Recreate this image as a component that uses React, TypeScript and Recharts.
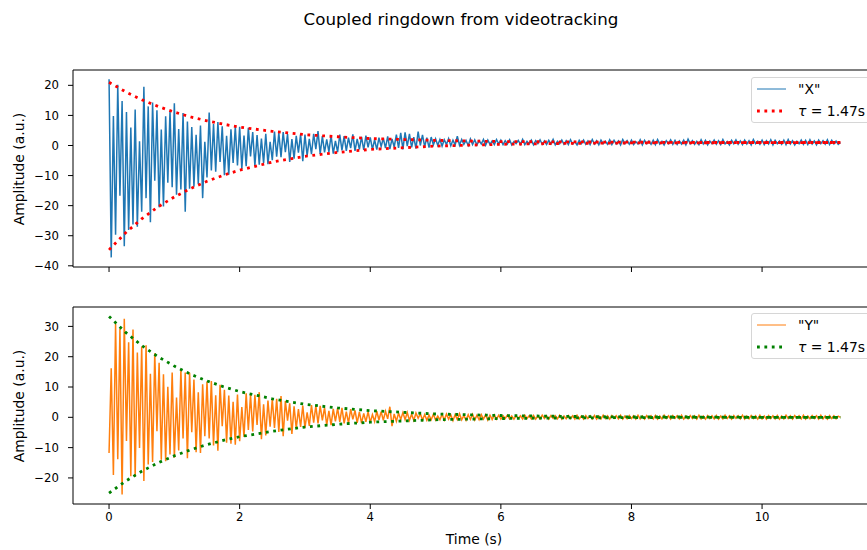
import React from 'react';
import { LineChart, Line, XAxis, YAxis, ReferenceLine } from 'recharts';

const FONT = '"DejaVu Sans", Verdana, sans-serif';

// Video frames per second of the tracked signal (samples are equally spaced in time)
const SAMPLE_RATE = 30;

// "X" amplitude
const X_SIGNAL = [
  22.0, -37.2, 9.8, -29.7, 20.2, -16.7, 14.8, -33.5, 11.1, -28.1, 6.0, -26.3, 12.0, -27.0, 1.4,
  -22.0, 19.5, -17.5, 13.0, -25.5, 14.3, -11.7, 11.7, -20.5, 5.3, -20.3, 9.7, -12.4, 11.5, -13.9,
  14.0, -16.4, 5.5, -14.6, 10.8, -22.0, 8.0, -14.4, 6.1, -13.7, 3.6, -12.8, 6.6, -17.5, 1.2,
  -10.6, 11.0, -8.3, 7.1, -8.7, 7.8, -5.5, 6.4, -9.9, 3.2, -9.7, 5.4, -5.8, 6.3, -6.6,
  6.2, -7.8, 3.3, -6.9, 5.9, -3.6, 4.5, -6.8, 3.5, -6.4, 2.3, -5.9, 3.9, -6.2, 1.2,
  -4.9, 4.6, -3.7, 4.2, -3.9, 4.5, -2.2, 3.8, -5.5, 2.1, -4.4, 3.2, -2.4, 3.7, -5.2,
  3.6, -3.4, 2.2, -2.9, 3.9, -1.2, 4.8, -2.8, 3.1, -2.3, 2.0, -2.1, 3.4, -2.7, 1.5,
  -2.2, 3.6, -1.6, 3.1, -1.8, 2.6, -0.9, 3.7, -1.8, 2.2, -1.3, 2.9, -1.5, 3.3, -0.6,
  2.7, -1.3, 1.9, -1.4, 2.6, -0.3, 2.4, -0.9, 3.0, -1.2, 2.2, -0.5, 3.6, -0.8, 4.2,
  -1.3, 4.4, -0.2, 3.9, -0.6, 2.8, -1.0, 4.6, 0.0, 3.5, -0.4, 2.6, -0.7, 2.8, 0.2,
  2.2, 0.1, 2.0, -0.2, 1.9, 0.3, 2.3, -0.1, 1.8, 0.2, 3.1, 0.1, 2.0, 0.4, 1.7,
  0.0, 2.2, 0.3, 1.9, 0.2, 1.6, 0.5, 2.0, 0.1, 1.8, 0.4, 1.5, 0.3, 2.0, 0.5,
  1.8, 0.3, 1.6, 0.5, 1.9, 0.2, 1.3, 0.6, 1.7, 0.4, 2.0, 0.3, 1.4, 0.5, 1.8,
  0.2, 1.6, 0.6, 1.9, 0.4, 1.5, 0.3, 1.7, 0.5, 2.0, 0.2, 1.4, 0.6, 1.8, 0.4,
  1.6, 0.3, 1.9, 0.5, 1.3, 0.2, 1.7, 0.6, 1.8, 0.4, 1.5, 0.3, 2.0, 0.5, 1.6,
  0.2, 1.8, 0.6, 1.4, 0.4, 1.9, 0.3, 1.7, 0.5, 1.5, 0.2, 2.0, 0.6, 1.6, 0.4,
  1.8, 0.3, 1.3, 0.5, 1.9, 0.2, 1.7, 0.6, 1.5, 0.4, 1.8, 0.3, 2.0, 0.5, 1.4,
  0.2, 1.6, 0.6, 1.9, 0.4, 1.7, 0.3, 1.5, 0.5, 1.8, 0.2, 2.1, 0.6, 1.6, 0.4,
  1.4, 0.3, 1.9, 0.5, 1.7, 0.2, 1.5, 0.6, 1.8, 0.4, 1.6, 0.3, 2.0, 0.5, 1.3,
  0.2, 1.7, 0.6, 1.9, 0.4, 1.5, 0.3, 1.8, 0.5, 1.6, 0.2, 2.0, 0.6, 1.4, 0.4,
  1.8, 0.3, 1.6, 0.5, 1.9, 0.2, 1.7, 0.6, 1.5, 0.4, 1.8, 0.3, 2.0, 0.5, 1.6,
  0.2, 1.4, 0.6, 1.8, 0.4, 1.7, 0.3, 1.9, 0.5, 1.5, 0.2, 1.8, 0.6, 1.6, 0.4,
  1.9, 0.3, 1.7, 0.5, 1.5, 0.4, 1.0,
];

// "Y" amplitude
const Y_SIGNAL = [
  -11.8, 16.2, -19.0, 30.8, -13.8, 29.2, -25.5, 32.5, -7.8, 24.8, -19.4, 29.0, -19.7, 21.4, -10.1,
  23.4, -21.0, 23.8, -15.6, 14.4, -14.7, 21.1, -4.6, 18.0, -14.0, 14.2, -14.5, 10.1, -12.3, 14.8,
  -13.3, 6.5, -10.9, 15.7, -7.0, 14.8, -13.5, 14.7, -4.9, 12.5, -11.5, 8.3, -11.8, 10.9, -6.2,
  11.8, -7.0, 12.0, -9.3, 7.3, -11.0, 10.7, -2.9, 9.1, -8.4, 7.2, -8.7, 5.1, -9.0, 7.5,
  -7.9, 3.4, -6.5, 7.9, -4.2, 7.5, -4.7, 7.4, -2.5, 8.3, -7.2, 4.3, -6.0, 5.5, -3.1,
  6.0, -3.5, 6.1, -4.8, 7.0, -6.2, 5.4, -1.1, 4.6, -5.5, 3.6, -3.7, 2.7, -3.2, 3.9,
  -3.5, 1.6, -2.8, 4.0, -1.8, 3.8, -2.0, 3.8, -1.0, 3.2, -2.6, 2.1, -2.6, 2.8, -1.3,
  3.0, -1.5, 3.1, -2.0, 1.9, -1.9, 2.7, -0.7, 2.3, -1.8, 1.8, -1.9, 1.3, -1.5, 1.9,
  -1.7, 0.9, -1.4, 2.0, -0.9, 1.9, -1.0, 2.0, -0.5, 3.5, -2.9, 1.1, -1.3, 1.4, -0.7,
  1.6, -0.8, 1.6, -1.0, 1.0, -1.0, 1.4, -0.3, 1.2, -0.9, 0.9, -1.0, 0.7, -0.8, 1.0,
  -0.9, 0.4, -0.8, 1.0, -0.9, 1.1, -0.6, 0.8, -1.1, 0.9, -0.7, 1.2, -0.8, 0.6, -1.0,
  0.9, -0.7, 1.0, -0.9, 0.7, -0.8, 0.9, -0.6, 0.8, -0.9, 0.7, -0.7, 0.8, -0.6, 0.7,
  -0.6, 0.5, -0.4, 0.7, -0.5, 0.4, -0.6, 0.6, -0.3, 0.5, -0.6, 0.7, -0.4, 0.5, -0.5,
  0.6, -0.6, 0.4, -0.5, 0.7, -0.4, 0.5, -0.6, 0.6, -0.3, 0.5, -0.5, 0.7, -0.6, 0.4,
  -0.5, 0.6, -0.4, 0.5, -0.6, 0.7, -0.5, 0.4, -0.6, 0.6, -0.4, 0.5, -0.5, 0.6, -0.6,
  0.4, -0.5, 0.7, -0.4, 0.5, -0.6, 0.6, -0.3, 0.5, -0.5, 0.7, -0.6, 0.4, -0.5, 0.6,
  -0.4, 0.5, -0.6, 0.7, -0.5, 0.4, -0.6, 0.6, -0.4, 0.5, -0.5, 0.6, -0.6, 0.4, -0.5,
  0.7, -0.4, 0.5, -0.6, 0.6, -0.3, 0.5, -0.5, 0.7, -0.6, 0.4, -0.5, 0.6, -0.4, 0.5,
  -0.6, 0.7, -0.5, 0.4, -0.6, 0.6, -0.4, 0.5, -0.5, 0.6, -0.6, 0.4, -0.5, 0.7, -0.4,
  0.5, -0.6, 0.6, -0.3, 0.5, -0.5, 0.7, -0.6, 0.4, -0.5, 0.6, -0.4, 0.5, -0.6, 0.7,
  -0.5, 0.4, -0.6, 0.6, -0.4, 0.5, -0.5, 0.6, -0.6, 0.4, -0.5, 0.7, -0.4, 0.5, -0.6,
  0.6, -0.3, 0.5, -0.5, 0.7, -0.6, 0.4, -0.5, 0.6, -0.4, 0.5, -0.6, 0.7, -0.5, 0.4,
  -0.6, 0.6, -0.4, 0.5, -0.5, 0.4, 0.0,
];

// Exponential-decay envelope (tau = 1.47 s), read at these times
const ENV_T = [0, 0.25, 0.5, 0.75, 1, 1.25, 1.5, 1.75, 2, 2.5, 3, 3.5, 4, 5, 6, 7, 8, 9, 10, 11.2];
const X_ENV_UPPER = [21.0, 17.9, 15.2, 13.0, 11.1, 9.5, 8.2, 7.1, 6.1, 4.7, 3.6, 2.9, 2.3, 1.7, 1.3, 1.2, 1.1, 1.0, 1.0, 1.0];
const X_ENV_LOWER = [-34.7, -29.1, -24.4, -20.4, -17.1, -14.3, -11.9, -9.9, -8.2, -5.5, -3.6, -2.3, -1.3, -0.2, 0.4, 0.7, 0.85, 0.9, 0.95, 1.0];
const Y_ENV_UPPER = [33.3, 28.1, 23.7, 20.0, 16.9, 14.2, 12.0, 10.1, 8.5, 6.1, 4.3, 3.1, 2.2, 1.1, 0.6, 0.3, 0.1, 0.1, 0.0, 0.0];
const Y_ENV_LOWER = [-25.0, -21.1, -17.8, -15.0, -12.7, -10.7, -9.0, -7.6, -6.4, -4.6, -3.2, -2.3, -1.6, -0.8, -0.4, -0.2, -0.1, 0.0, 0.0, 0.0];

const X_TICKS = [0, 2, 4, 6, 8, 10];
const TOP_Y_TICKS = [-40, -30, -20, -10, 0, 10, 20];
const BOTTOM_Y_TICKS = [-20, -10, 0, 10, 20, 30];
const X_DOMAIN: [number, number] = [-0.552, 11.76];
const TOP_Y_DOMAIN: [number, number] = [-40.4, 25.1];
const BOTTOM_Y_DOMAIN: [number, number] = [-28.6, 36.4];

const TITLE = 'Coupled ringdown from videotracking';
const Y_LABEL = 'Amplitude (a.u.)';
const X_LABEL = 'Time (s)';
const TAU_LABEL = '= 1.47s';

const fmt = (v: number) => String(v).replace('-', '\u2212');

function Panel(props: any) {
  const { top, height, marginBottom, signal, signalColor, envColor, upper, lower, yDomain, yTicks, showLabels } = props;
  const sig = signal.map((v: number, i: number) => ({ t: i / SAMPLE_RATE, v }));
  const up = ENV_T.map((t, i) => ({ t, v: upper[i] }));
  const lo = ENV_T.map((t, i) => ({ t, v: lower[i] }));
  const tickStyle = { fill: '#000', fontSize: 11.7, fontFamily: FONT };
  return (
    <div style={{ position: 'absolute', left: 0, top, width: 867, height, overflow: 'hidden' }}>
      <LineChart width={880} height={height} margin={{ top: 70, right: 3, bottom: marginBottom, left: 0 }}>
        <XAxis
          xAxisId="b"
          type="number"
          dataKey="t"
          domain={X_DOMAIN}
          ticks={X_TICKS}
          allowDataOverflow
          interval={0}
          height={30}
          axisLine={{ stroke: '#000', strokeWidth: 1 }}
          tickLine={{ stroke: '#000', strokeWidth: 1 }}
          tickSize={5}
          tickMargin={4}
          tick={tickStyle}
          tickFormatter={showLabels ? fmt : () => ''}
        />
        <YAxis
          yAxisId="l"
          type="number"
          domain={yDomain}
          ticks={yTicks}
          allowDataOverflow
          interval={0}
          width={73}
          axisLine={{ stroke: '#000', strokeWidth: 1 }}
          tickLine={{ stroke: '#000', strokeWidth: 1 }}
          tickSize={5}
          tickMargin={9}
          tick={tickStyle}
          tickFormatter={fmt}
        />
        <ReferenceLine xAxisId="b" yAxisId="l" y={yDomain[1]} stroke="#000" strokeWidth={1} />
        <Line
          xAxisId="b"
          yAxisId="l"
          data={sig}
          dataKey="v"
          type="linear"
          stroke={signalColor}
          strokeWidth={1.5}
          dot={false}
          activeDot={false}
          isAnimationActive={false}
        />
        <Line
          xAxisId="b"
          yAxisId="l"
          data={up}
          dataKey="v"
          type="linear"
          stroke={envColor}
          strokeWidth={2.8}
          strokeDasharray="2.8 4.6"
          dot={false}
          activeDot={false}
          isAnimationActive={false}
        />
        <Line
          xAxisId="b"
          yAxisId="l"
          data={lo}
          dataKey="v"
          type="linear"
          stroke={envColor}
          strokeWidth={2.8}
          strokeDasharray="2.8 4.6"
          dot={false}
          activeDot={false}
          isAnimationActive={false}
        />
      </LineChart>
    </div>
  );
}

function LegendBox(props: any) {
  const { left, top, name, signalColor, envColor } = props;
  const textStyle: React.CSSProperties = {
    position: 'absolute',
    left: 46,
    fontSize: 13.9,
    fontFamily: FONT,
    color: '#000',
    lineHeight: '16px',
    whiteSpace: 'nowrap',
  };
  return (
    <div
      style={{
        position: 'absolute',
        left,
        top,
        width: 125,
        height: 46,
        border: '1px solid #d6d6d6',
        borderRadius: 3,
        background: 'rgba(255,255,255,0.8)',
        boxSizing: 'border-box',
      }}
    >
      <svg width={40} height={46} style={{ position: 'absolute', left: 0, top: 0 }}>
        <line x1={5} x2={34} y1={11} y2={11} stroke={signalColor} strokeWidth={1} />
        <line x1={5} x2={34} y1={33} y2={33} stroke={envColor} strokeWidth={2.8} strokeDasharray="2.8 4.6" />
      </svg>
      <div style={{ ...textStyle, top: 3 }}>{name}</div>
      <div style={{ ...textStyle, top: 25 }}>
        <span style={{ fontStyle: 'italic' }}>τ</span> {TAU_LABEL}
      </div>
    </div>
  );
}

export default function App() {
  const labelStyle: React.CSSProperties = {
    position: 'absolute',
    fontFamily: FONT,
    fontSize: 13.9,
    color: '#000',
    whiteSpace: 'nowrap',
    lineHeight: '16px',
  };
  return (
    <div style={{ position: 'absolute', left: 0, top: 0, width: 867, height: 550, background: '#fff', overflow: 'hidden' }}>
      <div
        style={{
          position: 'absolute',
          left: 0,
          top: 9,
          width: 922,
          textAlign: 'center',
          fontFamily: FONT,
          fontSize: 16.7,
          lineHeight: '20px',
          color: '#000',
        }}
      >
        {TITLE}
      </div>
      <Panel
        top={0}
        height={300}
        marginBottom={3}
        signal={X_SIGNAL}
        signalColor="#1f77b4"
        envColor="#ff0000"
        upper={X_ENV_UPPER}
        lower={X_ENV_LOWER}
        yDomain={TOP_Y_DOMAIN}
        yTicks={TOP_Y_TICKS}
        showLabels={false}
      />
      <Panel
        top={237}
        height={313}
        marginBottom={16}
        signal={Y_SIGNAL}
        signalColor="#ff7f0e"
        envColor="#008000"
        upper={Y_ENV_UPPER}
        lower={Y_ENV_LOWER}
        yDomain={BOTTOM_Y_DOMAIN}
        yTicks={BOTTOM_Y_TICKS}
        showLabels={true}
      />
      <LegendBox left={751} top={77} name={'"X"'} signalColor="#1f77b4" envColor="#ff0000" />
      <LegendBox left={751} top={313} name={'"Y"'} signalColor="#ff7f0e" envColor="#008000" />
      <div style={{ ...labelStyle, left: 19, top: 168.5, transform: 'translate(-50%, -50%) rotate(-90deg)' }}>{Y_LABEL}</div>
      <div style={{ ...labelStyle, left: 19, top: 405.5, transform: 'translate(-50%, -50%) rotate(-90deg)' }}>{Y_LABEL}</div>
      <div style={{ ...labelStyle, left: 474, top: 539, transform: 'translate(-50%, -50%)' }}>{X_LABEL}</div>
    </div>
  );
}
